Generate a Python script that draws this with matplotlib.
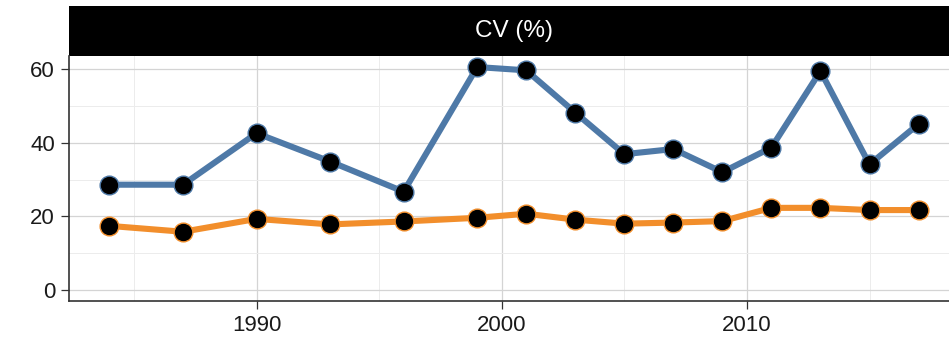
import matplotlib
matplotlib.use("Agg")
import matplotlib.pyplot as plt
from matplotlib.patches import Rectangle

plt.rcParams["font.family"] = ["Liberation Sans", "DejaVu Sans"]

years = [1984, 1987, 1990, 1993, 1996, 1999, 2001, 2003, 2005, 2007, 2009, 2011, 2013, 2015, 2017]
cv_blue = [28.6, 28.6, 42.6, 34.9, 26.7, 60.6, 59.7, 48.2, 36.9, 38.3, 32.0, 38.7, 59.5, 34.1, 45.1]
cv_orange = [17.4, 15.8, 19.3, 17.8, 18.6, 19.6, 20.7, 19.1, 18.0, 18.3, 18.7, 22.3, 22.3, 21.7, 21.7]
panel_title = "CV (%)"
x_ticks = [1990, 2000, 2010]
y_ticks = [0, 20, 40, 60]

W, H = 949, 342
fig = plt.figure(figsize=(W / 100, H / 100), dpi=100)
left, right, top, bottom = 69, 959, 56, 301
ax = fig.add_axes([left / W, 1 - bottom / H, (right - left) / W, (bottom - top) / H])

blue = "#4e79a7"
orange = "#f28e2b"

for vals, col in [(cv_blue, blue), (cv_orange, orange)]:
    ax.plot(years, vals, color=col, lw=4.4, solid_capstyle="round", zorder=3)
    ax.plot(years, vals, ls="none", marker="o", ms=13.5, mfc="black",
            mec=col, mew=1.0, zorder=4)

ax.set_xlim(1982.35, 2018.65)
ax.set_ylim(-3.03, 63.6)
ax.set_xticks(x_ticks)
ax.set_xticks([1985, 1995, 2005, 2015], minor=True)
ax.set_yticks(y_ticks)
ax.set_yticks([10, 30, 50], minor=True)

ax.grid(which="major", color="#d4d4d4", lw=0.9)
ax.grid(which="minor", color="#ececec", lw=0.7)
ax.set_axisbelow(True)

for s in ["top", "right"]:
    ax.spines[s].set_visible(False)
for s in ["left", "bottom"]:
    ax.spines[s].set_color("#333333")
    ax.spines[s].set_linewidth(1.2)

ax.tick_params(which="major", length=5.5, width=0.9, color="#333333",
               labelsize=16, labelcolor="#1a1a1a", pad=4.5)
ax.tick_params(which="minor", length=0)

# facet strip above the panel
strip_h = 50 / (bottom - top)
ax.add_patch(Rectangle((0, 1), 1, strip_h, transform=ax.transAxes,
                       facecolor="black", edgecolor="none", clip_on=False))
ax.text(0.5, 1 + strip_h / 2, panel_title, transform=ax.transAxes,
        ha="center", va="center", color="white", fontsize=17.5)

fig.savefig("out.png", dpi=100, facecolor="white")
